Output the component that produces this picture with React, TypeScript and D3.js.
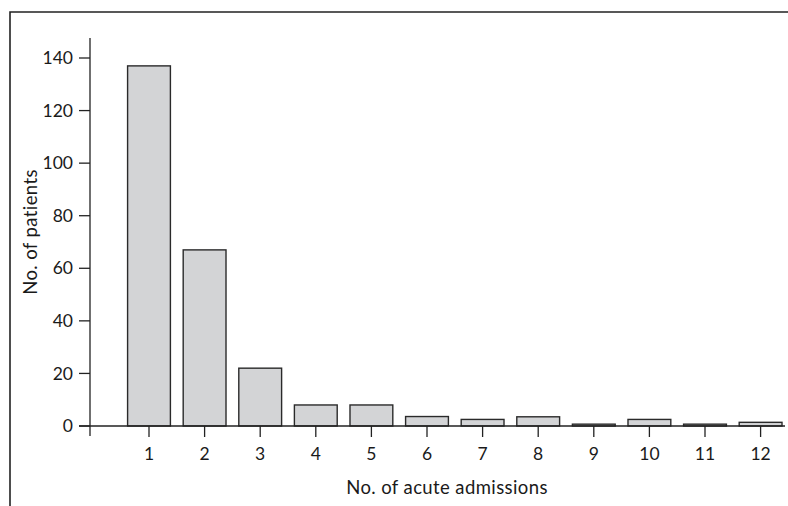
import React, { useEffect, useRef } from 'react';
import * as d3 from 'd3';

const admissions = ['1', '2', '3', '4', '5', '6', '7', '8', '9', '10', '11', '12'];
const patients = [137, 67, 22, 8, 8, 3.6, 2.5, 3.5, 0.7, 2.5, 0.7, 1.4];
const yTicks = [0, 20, 40, 60, 80, 100, 120, 140];

const W = 788, H = 506;
const FONT = 'Lato, "Open Sans", sans-serif';

export default function App() {
  const ref = useRef<SVGSVGElement>(null);

  useEffect(() => {
    const svg = d3.select(ref.current);
    svg.selectAll('*').remove();

    const x = d3.scaleBand().domain(admissions).range([121.2, 788.4])
      .paddingInner(0.23).paddingOuter(0.115);
    const y = d3.scaleLinear().domain([0, 140]).range([426, 58]);
    const axisX = 90;

    // frame
    svg.append('path')
      .attr('d', `M10,${H} L10,12 L${W},12`)
      .attr('fill', 'none').attr('stroke', '#222').attr('stroke-width', 1.6);

    // bars
    svg.append('g').selectAll('rect')
      .data(patients)
      .enter()
      .append('rect')
      .attr('x', (d, i) => x(admissions[i])!)
      .attr('y', d => y(d))
      .attr('width', x.bandwidth())
      .attr('height', d => y(0) - y(d))
      .attr('fill', '#d3d4d6')
      .attr('stroke', '#2a2a2a')
      .attr('stroke-width', 1.4);

    // y axis
    const gy = svg.append('g');
    gy.append('line').attr('x1', axisX).attr('x2', axisX).attr('y1', 38).attr('y2', 436)
      .attr('stroke', '#222').attr('stroke-width', 1.3);
    gy.selectAll('line.tick').data(yTicks).enter().append('line')
      .attr('class', 'tick')
      .attr('x1', 79).attr('x2', axisX).attr('y1', d => y(d)).attr('y2', d => y(d))
      .attr('stroke', '#222').attr('stroke-width', 1.3);
    gy.selectAll('text').data(yTicks).enter().append('text')
      .attr('x', 73).attr('y', d => y(d)).attr('dy', '0.35em')
      .attr('text-anchor', 'end')
      .attr('font-family', FONT).attr('font-size', 17.5).attr('fill', '#1a1a1a')
      .text(d => d);

    // x axis
    const gx = svg.append('g');
    gx.append('line').attr('x1', 79).attr('x2', 785).attr('y1', y(0)).attr('y2', y(0))
      .attr('stroke', '#222').attr('stroke-width', 1.3);
    gx.selectAll('line.tick').data(admissions).enter().append('line')
      .attr('class', 'tick')
      .attr('x1', d => x(d)! + x.bandwidth() / 2).attr('x2', d => x(d)! + x.bandwidth() / 2)
      .attr('y1', y(0)).attr('y2', y(0) + 11)
      .attr('stroke', '#222').attr('stroke-width', 1.3);
    gx.selectAll('text').data(admissions).enter().append('text')
      .attr('x', d => x(d)! + x.bandwidth() / 2).attr('y', 460)
      .attr('text-anchor', 'middle')
      .attr('font-family', FONT).attr('font-size', 17.5).attr('fill', '#1a1a1a')
      .text(d => d);

    // axis titles
    svg.append('text')
      .attr('x', 447).attr('y', 494)
      .attr('text-anchor', 'middle')
      .attr('font-family', FONT).attr('font-size', 18.5).attr('letter-spacing', 0.4)
      .attr('fill', '#1a1a1a')
      .text('No. of acute admissions');

    svg.append('text')
      .attr('transform', 'translate(37,232) rotate(-90)')
      .attr('text-anchor', 'middle')
      .attr('font-family', FONT).attr('font-size', 18.5).attr('letter-spacing', 0.4)
      .attr('fill', '#1a1a1a')
      .text('No. of patients');
  }, []);

  return (
    <svg ref={ref} width={W} height={H}
      style={{ position: 'absolute', left: 0, top: 0, background: '#fff' }} />
  );
}
